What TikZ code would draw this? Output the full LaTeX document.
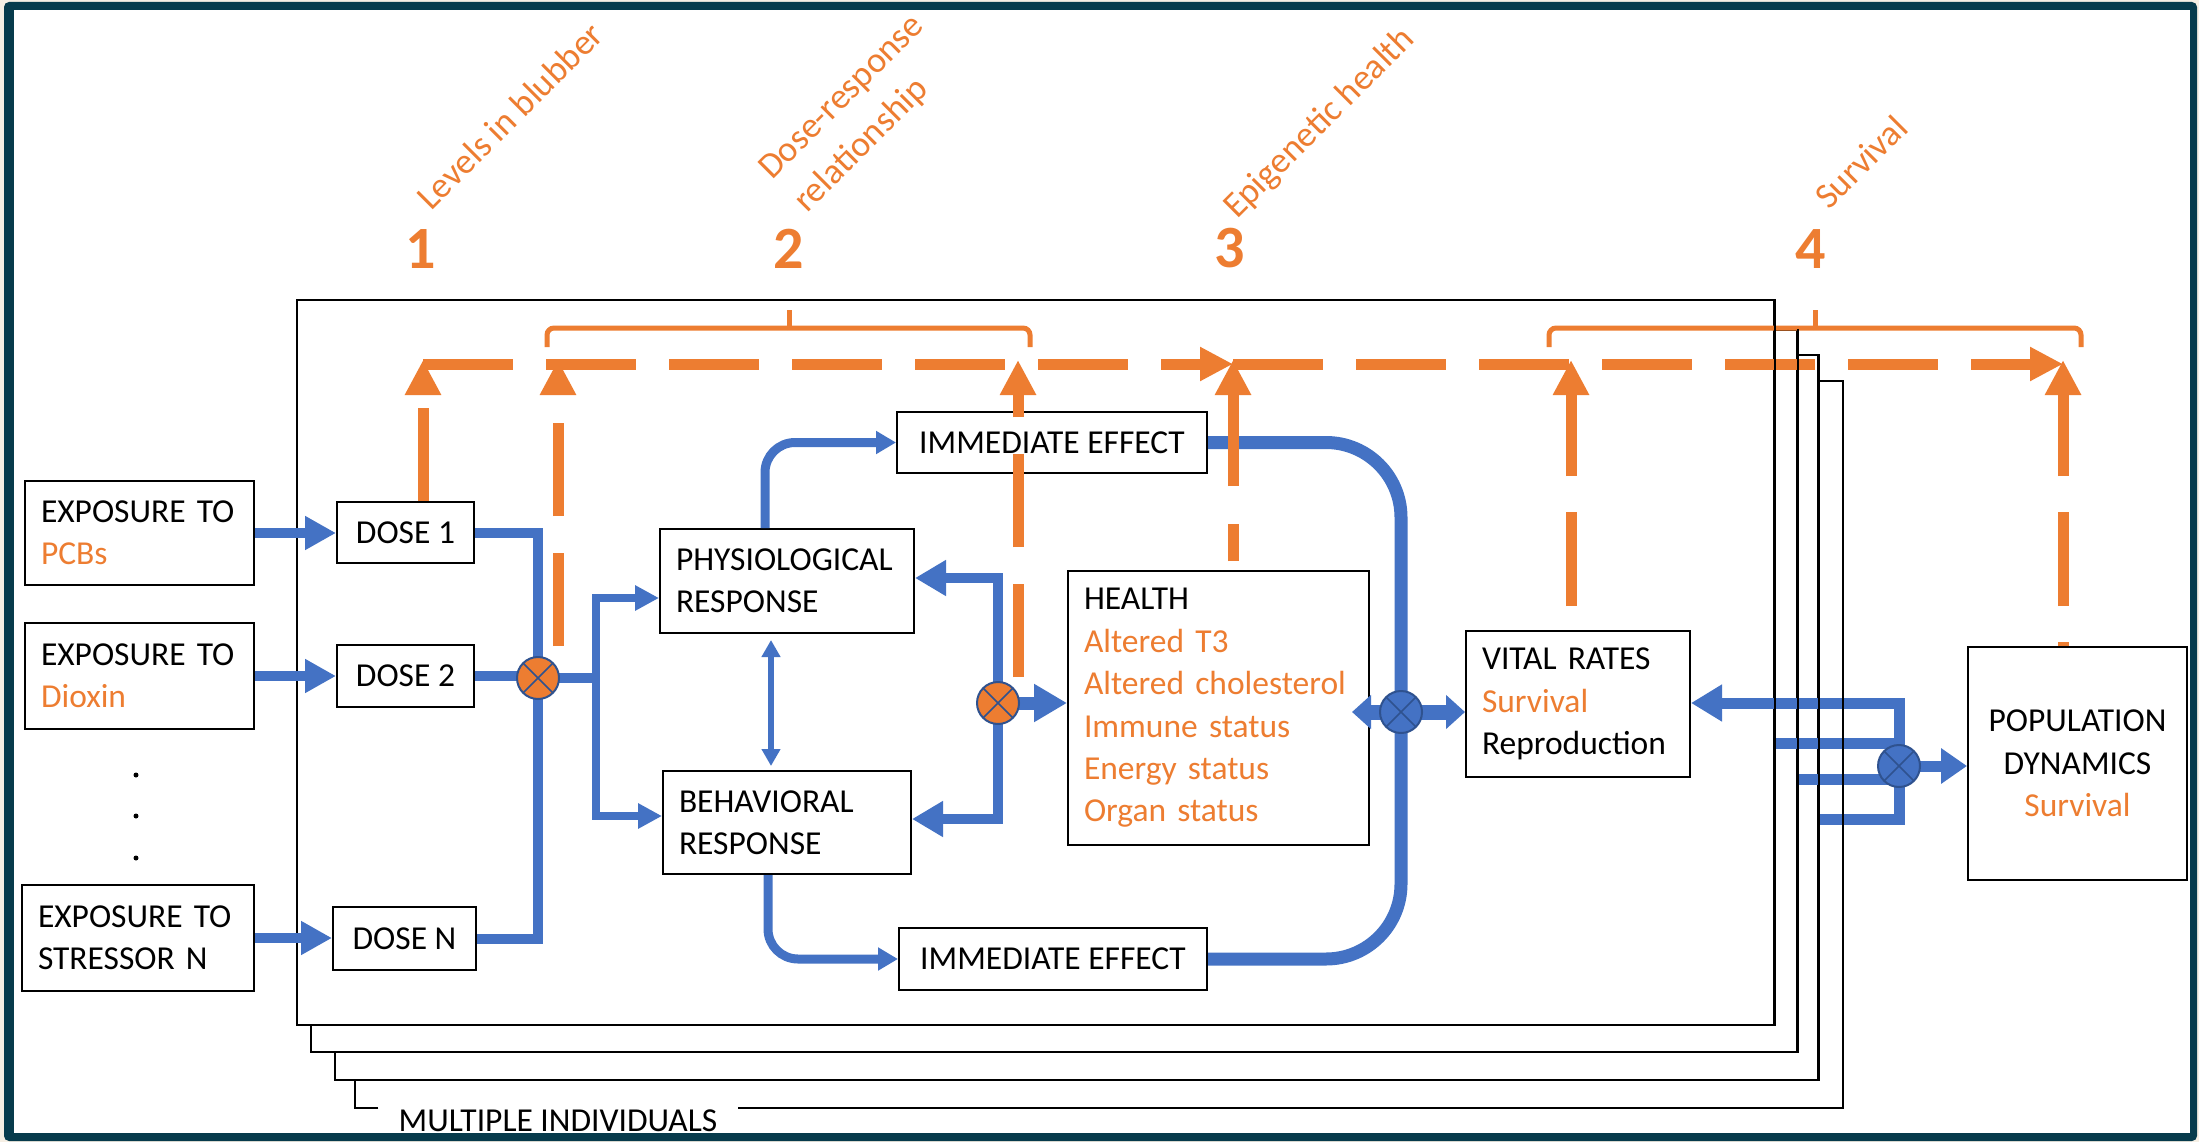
\documentclass[tikz,border=0pt]{standalone}
\usepackage{fontspec}
\setmainfont{Carlito}
\usetikzlibrary{arrows.meta}
\definecolor{bl}{HTML}{4472C4}
\definecolor{orng}{HTML}{ED7D31}
\definecolor{dkb}{HTML}{2F528F}
\definecolor{teal0}{HTML}{073B4C}
\definecolor{cream}{HTML}{F6EFE4}
\newcommand\boxfont{\fontsize{33.5}{42.4}\selectfont}
\newcommand\labfont{\fontsize{36}{44}\selectfont}
\begin{document}
\begin{tikzpicture}[x=1pt,y=-1pt,
  bx/.style={draw=black, line width=2pt, fill=white, rectangle, inner xsep=16pt, inner ysep=0pt, font=\boxfont},
  frm/.style={draw=black, line width=2pt, fill=white, rectangle, inner sep=0pt},
  bline/.style={bl, line width=10pt},
  xc/.style={circle, minimum size=42pt, inner sep=0pt, draw=dkb, line width=2pt,
    path picture={\draw[dkb, line width=1.5pt] (path picture bounding box.north west) -- (path picture bounding box.south east)
      (path picture bounding box.north east) -- (path picture bounding box.south west);}},
  oline/.style={orng, line width=11pt},
  uparr/.style={oline, -{Triangle[length=35pt,width=34pt]}},
  brace/.style={orng, line width=5pt},
  lab/.style={orng, font=\labfont, rotate=45, anchor=base west, inner sep=0pt},
  num/.style={orng, font=\bfseries\fontsize{60}{60}\selectfont}
]
\useasboundingbox (0,0) rectangle (2199,1142);
\fill[cream] (0,0) rectangle (2199,1142);
\fill[teal0, rounded corners=5pt] (4,2) rectangle (2197,1141);
\fill[white] (14,10) rectangle (2190,1133);

% stacked frames (multiple individuals)
\node[frm, draw=none, minimum width=1486pt, minimum height=725pt] (f4) at (1099,744.5) {};
\node[font=\boxfont, inner xsep=20pt, inner ysep=0pt] (multi) at (558,1121) {MULTIPLE INDIVIDUALS};
\draw[line width=2pt] (multi.west |- f4.south) -- (f4.south west) -- (f4.north west) -- (f4.north east) -- (f4.south east) -- (multi.east |- f4.south);
\node[frm, minimum width=1483pt, minimum height=725pt] (f3) at (1076.5,717.5) {};
\node[frm, minimum width=1486pt, minimum height=722pt] (f2) at (1054,691) {};
\node[frm, minimum width=1477pt, minimum height=725pt] (f1) at (1035.5,662.5) {};

% boxes
\node[bx, text width=197pt, align=left, minimum height=104pt] (exp1) at (139.5,533) {EXPOSURE TO\\\textcolor{orng}{PCBs}};
\node[bx, text width=197pt, align=left, minimum height=106pt] (exp2) at (139.5,676) {EXPOSURE TO\\\textcolor{orng}{Dioxin}};
\node[bx, text width=200pt, align=left, minimum height=106pt] (expN) at (138,938) {EXPOSURE TO\\STRESSOR N};
\foreach \y in {775,816,858} \fill (136,\y) circle (2.5pt);

\node[bx, minimum width=137pt, minimum height=61pt] (dose1) at (405.5,532.5) {DOSE 1};
\node[bx, minimum width=137pt, minimum height=62pt] (dose2) at (405.5,676) {DOSE 2};
\node[bx, minimum width=143pt, minimum height=63pt] (doseN) at (404.5,938.5) {DOSE N};

\node[bx, text width=222pt, align=left, minimum height=104pt] (phys) at (787,581) {PHYSIOLOGICAL\\RESPONSE};
\node[bx, text width=216pt, align=left, minimum height=103pt] (behav) at (787,822.5) {BEHAVIORAL\\RESPONSE};
\node[bx, minimum width=310pt, minimum height=61pt] (ie1) at (1052,442.5) {IMMEDIATE EFFECT};
\node[bx, minimum width=308pt, minimum height=62pt] (ie2) at (1053,959) {IMMEDIATE EFFECT};
\node[bx, text width=269pt, align=left, minimum height=274pt] (health) at (1218.5,708) {HEALTH\\\textcolor{orng}{Altered T3}\\\textcolor{orng}{Altered cholesterol}\\\textcolor{orng}{Immune status}\\\textcolor{orng}{Energy status}\\\textcolor{orng}{Organ status}};
\node[bx, text width=192pt, align=left, minimum height=146pt] (vr) at (1578,704) {VITAL RATES\\\textcolor{orng}{Survival}\\Reproduction};
\node[bx, text width=187pt, align=center, minimum height=233pt] (pop) at (2077.5,763.5) {POPULATION\\DYNAMICS\\\textcolor{orng}{Survival}};

% circle centres
\coordinate (c1) at (538,678);
\coordinate (c2) at (998,703);
\coordinate (c3) at (1401,712);
\coordinate (c4) at (1899,766);
\coordinate (br) at (596,678);

% blue connectors
\draw[bline, -{Triangle[length=31pt,width=32pt]}] (exp1.east) -- (exp1.east -| dose1.west);
\draw[bline, -{Triangle[length=31pt,width=32pt]}] (exp2.east) -- (exp2.east -| dose2.west);
\draw[bline, -{Triangle[length=31pt,width=32pt]}] (expN.east) -- (expN.east -| doseN.west);
\draw[bline] (dose1.east) -| (c1);
\draw[bline] (dose2.east) -- (dose2.east -| c1);
\draw[bline] (doseN.east) -| (c1);
\draw[bline] (c1) -- (br);
\draw[bl, line width=8pt, -{Triangle[length=24pt,width=24pt]}] (br) |- (phys.west |- 0,598);
\draw[bl, line width=8pt, -{Triangle[length=24pt,width=24pt]}] (br) |- (behav.west |- 0,816);
\draw[bl, line width=9pt, rounded corners=30pt, -{Triangle[length=20pt,width=22pt]}] (phys.north -| 765,0) |- (ie1.west);
\draw[bl, line width=9pt, rounded corners=30pt, -{Triangle[length=20pt,width=22pt]}] (behav.south -| 768,0) |- (ie2.west);
\draw[bl, line width=6pt, {Triangle[length=17pt,width=18pt]}-{Triangle[length=17pt,width=18pt]}, shorten <=6pt, shorten >=4pt] (phys.south -| 771,0) -- (behav.north -| 771,0);

\draw[bline, -{Triangle[length=31pt,width=34pt]}] (c2) |- (phys.east |- 0,578);
\draw[bline, -{Triangle[length=31pt,width=34pt]}] (c2) |- (behav.east |- 0,819);
\draw[bl, line width=13pt, -{Triangle[length=33pt,width=36pt]}] (c2) -- (health.west |- c2);

\draw[bl, line width=13pt, rounded corners=75pt] (ie1.east) -| (c3) |- (ie2.east);
\draw[bl, line width=15pt, -{Triangle[length=19pt,width=33pt]}, shorten >=-18pt] (c3) -- (health.east |- c3);
\draw[bl, line width=15pt, -{Triangle[length=19pt,width=33pt]}] (c3) -- (vr.west |- c3);

\draw[bl, line width=11pt, -{Triangle[length=31pt,width=35pt]}] (f3.east |- 0,819) -| (c4 |- 0,703) -- (vr.east |- 0,703);
\draw[bl, line width=11pt] (f1.east |- 0,743) -- (c4 |- 0,743);
\draw[bl, line width=11pt] (f2.east |- 0,779) -- (c4 |- 0,779);
\draw[bl, line width=11pt, -{Triangle[length=26pt,width=34pt]}] (c4) -- (pop.west |- c4);

% circles
\node[xc, fill=orng] (C1) at (c1) {};
\node[xc, fill=orng] (C2) at (c2) {};
\node[xc, fill=bl] (C3) at (c3) {};
\node[xc, fill=bl] (C4) at (c4) {};

% orange top structure
\coordinate (h0) at (423,364);
\coordinate (h1) at (1233,364);
\coordinate (h2) at (2063,364);
\draw[oline, dash pattern=on 90pt off 33pt, -{Triangle[length=33pt,width=32pt]}] (h0) -- (h1);
\draw[oline, dash pattern=on 90pt off 33pt, -{Triangle[length=33pt,width=32pt]}] (h1) -- (h2);

\draw[uparr, dash pattern=on 93pt off 37pt] (dose1.north -| h0) -- (h0 |- 0,360);
\draw[uparr, dash pattern=on 93pt off 37pt] (558,646) -- (558,360);
\draw[uparr, dash pattern=on 93pt off 37pt] (1018,677) -- (1018,360);
\draw[uparr, dash pattern=on 0pt off 9pt on 37pt off 38pt on 300pt] (health.north -| h1) -- (h1 |- 0,360);
\draw[uparr, dash pattern=on 94pt off 36pt, dash phase=106pt] (vr.north -| 1571,0) -- (1571,360);
\draw[uparr, dash pattern=on 94pt off 36pt, dash phase=90pt] (pop.north -| h2) -- (h2 |- 0,360);

\draw[brace, rounded corners=7pt] (547,347) -- (547,328) -- (1030,328) -- (1030,347);
\draw[brace] (789,330) -- (789,310);
\draw[brace, rounded corners=7pt] (1549,347) -- (1549,328) -- (2081,328) -- (2081,347);
\draw[brace] (1815,330) -- (1815,310);

\node[num] (n1) at (421,249) {1};
\node[num] (n2) at (789,249) {2};
\node[num] (n3) at (1230,248) {3};
\node[num] (n4) at (1811,249) {4};

\node[lab] (l1) at (431,212) {Levels in blubber};
\node[lab] (l2a) at (772,181) {Dose-response};
\node[lab] (l2b) at (807,214) {relationship};
\node[lab] (l3) at (1237,220) {Epigenetic health};
\node[lab] (l4) at (1829,211) {Survival};

% right edges of frames drawn over connectors
\draw[line width=2pt] (f1.north east) -- (f1.south east);
\draw[line width=2pt] (f2.north east) -- (f2.south east);
\draw[line width=2pt] (f3.north east) -- (f3.south east);
\draw[line width=2pt] (f4.north east) -- (f4.south east);
\end{tikzpicture}
\end{document}
